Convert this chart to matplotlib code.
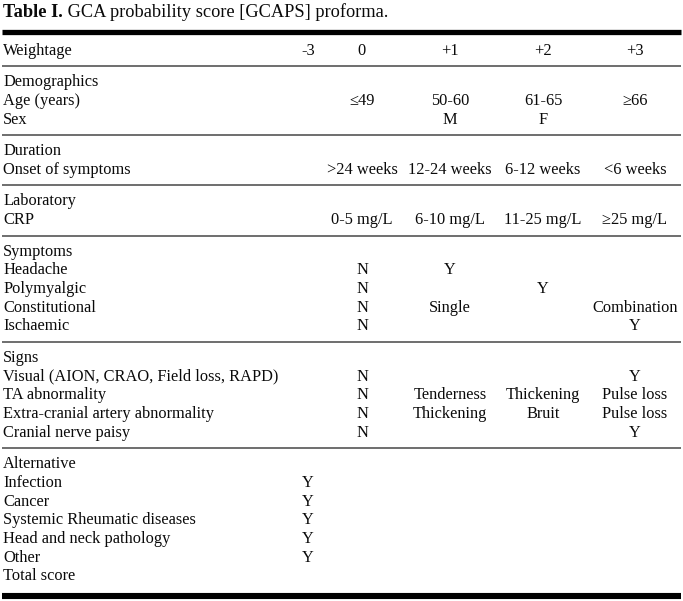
import matplotlib
matplotlib.use("Agg")
import matplotlib.pyplot as plt

# -----------------------------------------------------------------------------
#                               Table content
# -----------------------------------------------------------------------------
title_bold = "Table I."
title_rest = " GCA probability score [GCAPS] proforma."

header_label = "Weightage"
col_headers = ["-3", "0", "+1", "+2", "+3"]

# each group: (heading, [(row label, [cells for -3, 0, +1, +2, +3]), ...])
demographics = [
    ("Age (years)", ["", "≤49", "50-60", "61-65", "≥66"]),
    ("Sex", ["", "", "M", "F", ""]),
]
duration = [
    ("Onset of symptoms", ["", ">24 weeks", "12-24 weeks", "6-12 weeks", "<6 weeks"]),
]
laboratory = [
    ("CRP", ["", "0-5 mg/L", "6-10 mg/L", "11-25 mg/L", "≥25 mg/L"]),
]
symptoms = [
    ("Headache", ["", "N", "Y", "", ""]),
    ("Polymyalgic", ["", "N", "", "Y", ""]),
    ("Constitutional", ["", "N", "Single", "", "Combination"]),
    ("Ischaemic", ["", "N", "", "", "Y"]),
]
signs = [
    ("Visual (AION, CRAO, Field loss, RAPD)", ["", "N", "", "", "Y"]),
    ("TA abnormality", ["", "N", "Tenderness", "Thickening", "Pulse loss"]),
    ("Extra-cranial artery abnormality", ["", "N", "Thickening", "Bruit", "Pulse loss"]),
    ("Cranial nerve paisy", ["", "N", "", "", "Y"]),
]
alternative = [
    ("Infection", ["Y", "", "", "", ""]),
    ("Cancer", ["Y", "", "", "", ""]),
    ("Systemic Rheumatic diseases", ["Y", "", "", "", ""]),
    ("Head and neck pathology", ["Y", "", "", "", ""]),
    ("Other", ["Y", "", "", "", ""]),
    ("Total score", ["", "", "", "", ""]),
]
groups = [
    ("Demographics", demographics),
    ("Duration", duration),
    ("Laboratory", laboratory),
    ("Symptoms", symptoms),
    ("Signs", signs),
    ("Alternative", alternative),
]

# -----------------------------------------------------------------------------
#                                 Layout
# -----------------------------------------------------------------------------
W, H = 683, 601
col_x = [308, 362, 450, 543, 635]
x_left = 3
row_step = 18.7
group_step = 31.5
fs = 11.8
title_fs = 13.2
font = "Liberation Serif"
base_off = 4.8   # baseline below the visual middle of a row
rule_gray = "#6e6e6e"

fig = plt.figure(figsize=(W / 100, H / 100), dpi=100)
ax = fig.add_axes([0, 0, 1, 1])
ax.set_xlim(0, W)
ax.set_ylim(H, 0)
ax.axis("off")


def put(x, y, s, ha="left", weight="normal"):
    return ax.text(x, y + base_off, s, ha=ha, va="baseline", fontsize=fs,
                   family=font, weight=weight, color="#0a0a0a")


# title
t1 = ax.text(x_left, 17, title_bold, ha="left", va="baseline",
             fontsize=title_fs, family=font, weight="bold", color="#0a0a0a")
fig.canvas.draw()
bb = t1.get_window_extent()
ax.text(x_left + bb.width, 17, title_rest, ha="left", va="baseline",
        fontsize=title_fs, family=font, color="#0a0a0a")

ax.plot([2, 681], [31.5, 31.5], color="black", lw=3.8, solid_capstyle="butt")

# header row
y = 50
put(x_left, y, header_label)
for cx, s in zip(col_x, col_headers):
    put(cx, y, s, ha="center")

for heading, rows in groups:
    ax.plot([2, 681], [y + 16.3, y + 16.3], color=rule_gray, lw=1.4,
            solid_capstyle="butt")
    y += group_step
    put(x_left, y, heading)
    for label, cells in rows:
        y += row_step
        put(x_left, y, label)
        for cx, s in zip(col_x, cells):
            if s:
                put(cx, y, s, ha="center")

ax.plot([2, 681], [596, 596], color="black", lw=4.4, solid_capstyle="butt")

fig.savefig("out.png", dpi=100, facecolor="white")
